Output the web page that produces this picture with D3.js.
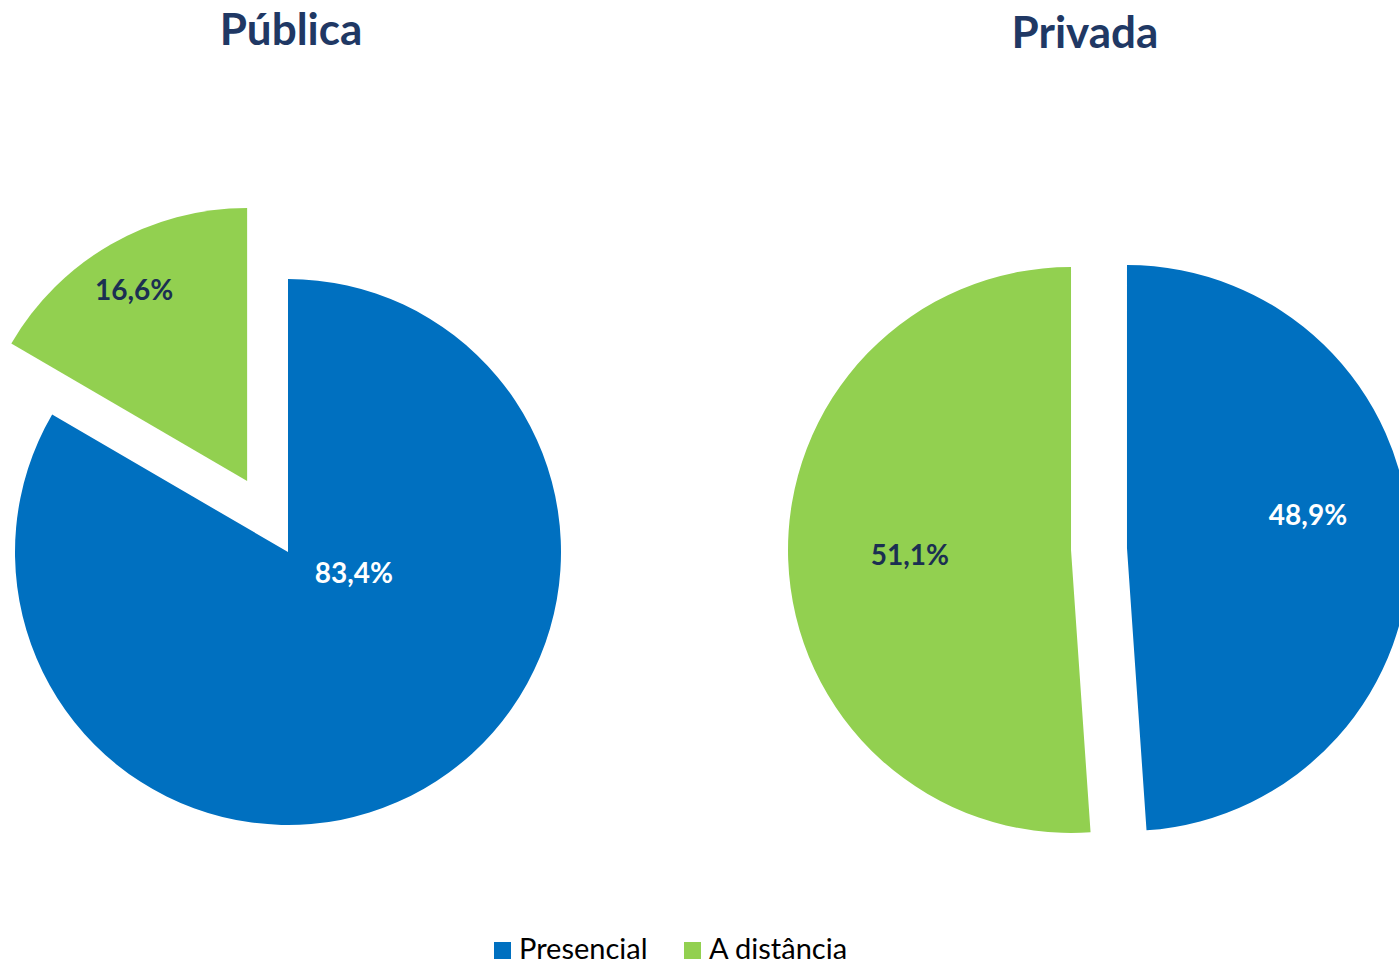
<!DOCTYPE html>
<html>
<head>
<meta charset="utf-8">
<script src="https://cdn.jsdelivr.net/npm/d3@7"></script>
<style>
  body { margin: 0; background: #fff; }
  svg { display: block; }
</style>
</head>
<body>
<script>
// Data
var categories = ["Presencial", "A distância"];
var titles = ["Pública", "Privada"];
var publica = [83.4, 16.6];
var privada = [48.9, 51.1];

var colors = ["#0070C0", "#92D050"];
var labelColors = ["#ffffff", "#1B2F52"];

var w = 1399, h = 965;

var svg = d3.select("body").append("svg")
  .attr("width", w)
  .attr("height", h)
  .attr("font-family", "Lato, 'Open Sans', sans-serif");

// layout for the two pies (explode = offset along slice bisector, label = [angle deg, fraction of r])
var charts = [
  { title: titles[0], values: publica, cx: 288, cy: 552, r: 273, tx: 291, ty: 45,
    explode: [0, 82], label: [[107.7, 0.253], [329.4, 0.813]] },
  { title: titles[1], values: privada, cx: 1099, cy: 549, r: 283, tx: 1085, ty: 48,
    explode: [28, 28], label: [[79.7, 0.65], [268.2, 0.57]] }
];

var pie = d3.pie().sort(null).value(function(d) { return d; });
var fmt = function(v) { return d3.format(".1f")(v).replace(".", ",") + "%"; };

charts.forEach(function(c) {
  svg.append("text")
    .attr("x", c.tx)
    .attr("y", c.ty)
    .attr("text-anchor", "middle")
    .attr("font-size", "44px")
    .attr("font-weight", "bold")
    .attr("fill", "#203864")
    .text(c.title);

  var arc = d3.arc().innerRadius(0).outerRadius(c.r);
  var g = svg.append("g").attr("transform", "translate(" + c.cx + "," + c.cy + ")");

  var slices = g.selectAll(".slice")
    .data(pie(c.values))
    .enter().append("g")
      .attr("class", "slice")
      .attr("transform", function(d, i) {
        var mid = (d.startAngle + d.endAngle) / 2;
        var e = c.explode[i];
        return "translate(" + (Math.sin(mid) * e) + "," + (-Math.cos(mid) * e) + ")";
      });

  slices.append("path")
    .attr("d", arc)
    .attr("fill", function(d, i) { return colors[i]; });

  slices.append("text")
    .attr("transform", function(d, i) {
      var a = c.label[i][0] * Math.PI / 180, rr = c.label[i][1] * c.r;
      return "translate(" + (Math.sin(a) * rr) + "," + (-Math.cos(a) * rr) + ")";
    })
    .attr("text-anchor", "middle")
    .attr("dy", "0.36em")
    .attr("font-size", "28px")
    .attr("font-weight", "bold")
    .attr("fill", function(d, i) { return labelColors[i]; })
    .text(function(d) { return fmt(d.data); });
});

// Legend
var legendX = [494, 684];
var legend = svg.selectAll(".legend")
  .data(categories)
  .enter().append("g")
    .attr("class", "legend")
    .attr("transform", function(d, i) { return "translate(" + legendX[i] + ",942)"; });

legend.append("rect")
  .attr("width", 17)
  .attr("height", 17)
  .attr("fill", function(d, i) { return colors[i]; });

legend.append("text")
  .attr("x", 25)
  .attr("y", 17)
  .attr("font-size", "29px")
  .attr("fill", "#000")
  .text(function(d) { return d; });
</script>
</body>
</html>
